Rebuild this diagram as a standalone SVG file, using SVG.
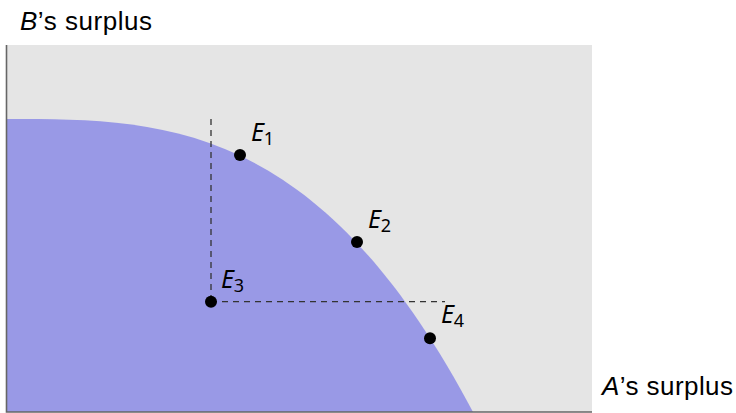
<svg xmlns="http://www.w3.org/2000/svg" width="736" height="413" viewBox="0 0 736 413">
  <style>
    .axlabel { font-family: "Liberation Sans", Arial, sans-serif; font-size: 26px; fill: #000; }
    .pt { font-family: "Noto Sans", "DejaVu Sans", sans-serif; font-style: italic; font-size: 25px; fill: #000; }
    .sub { font-size: 18px; font-style: normal; }
    .dot { fill: #000; }
    .dash { fill: none; stroke: #333; stroke-width: 1.3; stroke-dasharray: 6 5; }
    .axis { fill: none; stroke: #666; stroke-width: 1.6; }
  </style>
  <rect width="736" height="413" fill="#fff"/>
  <g id="plot">
    <rect x="7" y="45" width="585" height="367" fill="#e5e5e5"/>
    <path d="M7,412 L7,119 C162.3,119 317.7,119 473,412 Z" fill="#9999e6"/>
  </g>
  <g id="axes">
    <path class="axis" d="M6.5,45 L6.5,412 L592,412"/>
  </g>
  <g id="connectors">
    <path class="dash" d="M211,119 L211,301.7"/>
    <path class="dash" d="M211,301.7 L445,301.7"/>
  </g>
  <g id="E1">
    <circle class="dot" cx="240" cy="155" r="6"/>
    <text class="pt" x="251" y="141">E<tspan class="sub" dy="4">1</tspan></text>
  </g>
  <g id="E2">
    <circle class="dot" cx="357" cy="242" r="6"/>
    <text class="pt" x="368" y="228">E<tspan class="sub" dy="4">2</tspan></text>
  </g>
  <g id="E3">
    <circle class="dot" cx="211" cy="301.7" r="6"/>
    <text class="pt" x="221" y="288">E<tspan class="sub" dy="4">3</tspan></text>
  </g>
  <g id="E4">
    <circle class="dot" cx="430" cy="338.3" r="6"/>
    <text class="pt" x="441" y="322.5">E<tspan class="sub" dy="4.5">4</tspan></text>
  </g>
  <g id="labels">
    <text class="axlabel" x="20" y="30" textLength="132" lengthAdjust="spacing"><tspan font-style="italic">B</tspan>’s surplus</text>
    <text class="axlabel" x="602" y="395" textLength="131" lengthAdjust="spacing"><tspan font-style="italic">A</tspan>’s surplus</text>
  </g>
</svg>
